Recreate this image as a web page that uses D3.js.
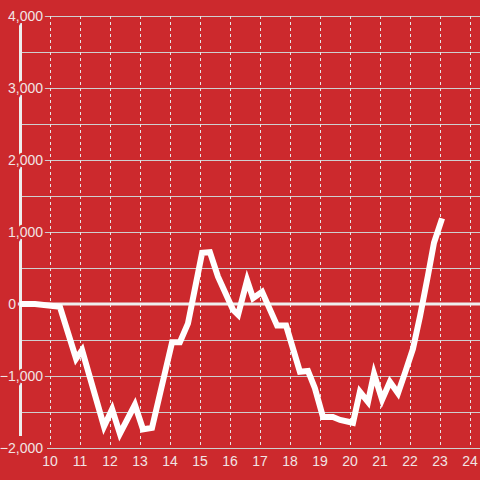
<!DOCTYPE html>
<html><head><meta charset="utf-8">
<script src="https://cdn.jsdelivr.net/npm/d3@7"></script>
<style>html,body{margin:0;padding:0;background:#cc292d;}svg{display:block;}</style>
</head><body>
<svg id="c" width="480" height="480"></svg>
<script>
const hours = [9, 9.5, 10.33, 10.87, 11.07, 11.8, 12.07, 12.33, 12.83, 13.1, 13.4, 14.07, 14.33, 14.6, 15.07, 15.33, 15.6, 16.1, 16.27, 16.57, 16.77, 17.07, 17.57, 17.87, 18.33, 18.6, 18.83, 19.1, 19.43, 19.67, 20.1, 20.33, 20.6, 20.8, 21.07, 21.33, 21.6, 21.83, 22.1, 22.33, 22.6, 22.8, 23.07];
const values = [0, 0, -40, -760, -640, -1700, -1460, -1800, -1400, -1740, -1720, -530, -530, -270, 710, 720, 380, -80, -150, 330, 80, 170, -300, -300, -940, -930, -1170, -1570, -1570, -1610, -1650, -1220, -1360, -970, -1330, -1080, -1240, -960, -620, -180, 400, 850, 1190];
const xTicks = [10, 11, 12, 13, 14, 15, 16, 17, 18, 19, 20, 21, 22, 23, 24];
const yTicks = [-2000, -1000, 0, 1000, 2000, 3000, 4000];
const yGrid = [-2000, -1500, -1000, -500, 0, 500, 1000, 1500, 2000, 2500, 3000, 3500, 4000];

const bg = "#cc292d";
const svg = d3.select("#c");
const x = d3.scaleLinear().domain([9, 24]).range([20, 470]);
const y = d3.scaleLinear().domain([-2000, 4000]).range([448, 16]);

svg.append("rect").attr("width", 480).attr("height", 480).attr("fill", bg);

// horizontal grid
svg.append("g").selectAll("line").data(yGrid.filter(d => d !== 0)).join("line")
  .attr("x1", d => d === -2000 ? 47 : 20).attr("x2", 480)
  .attr("y1", d => Math.round(y(d)) + 0.5).attr("y2", d => Math.round(y(d)) + 0.5)
  .attr("stroke", "#cfcfcf").attr("stroke-width", 1.2);

// vertical dashed grid
svg.append("g").selectAll("line").data(xTicks).join("line")
  .attr("x1", d => Math.round(x(d)) + 0.5).attr("x2", d => Math.round(x(d)) + 0.5)
  .attr("y1", 16).attr("y2", 448)
  .attr("stroke", "#e6e6e6").attr("stroke-width", 1).attr("stroke-dasharray", "3,3");

// y axis line
svg.append("line").attr("x1", 20.5).attr("x2", 20.5).attr("y1", 23).attr("y2", 436)
  .attr("stroke", "#eeeeee").attr("stroke-width", 3);

// zero line
svg.append("line").attr("x1", 17).attr("x2", 480).attr("y1", y(0)).attr("y2", y(0))
  .attr("stroke", "#eeeeee").attr("stroke-width", 3);

// y labels with halo
svg.append("g").selectAll("text").data(yTicks).join("text")
  .attr("x", d => d === 0 ? 16 : 43).attr("y", d => y(d)).attr("dy", "0.36em")
  .attr("text-anchor", "end")
  .attr("font-family", "Liberation Sans, Arial, sans-serif").attr("font-size", 14)
  .attr("fill", "#f1e4e4").attr("stroke", bg).attr("stroke-width", 5)
  .attr("paint-order", "stroke")
  .text(d => d3.format(",")(d));

// x labels
svg.append("g").selectAll("text").data(xTicks).join("text")
  .attr("x", d => x(d)).attr("y", 461).attr("dy", "0.36em")
  .attr("text-anchor", "middle")
  .attr("font-family", "Liberation Sans, Arial, sans-serif").attr("font-size", 14)
  .attr("fill", "#f1e4e4")
  .text(d => d);

// data line
const line = d3.line().x((d, i) => x(hours[i])).y(d => y(d));
svg.append("path").datum(values).attr("d", line)
  .attr("fill", "none").attr("stroke", "#ffffff").attr("stroke-width", 6)
  .attr("stroke-linejoin", "miter");
</script>
</body></html>
